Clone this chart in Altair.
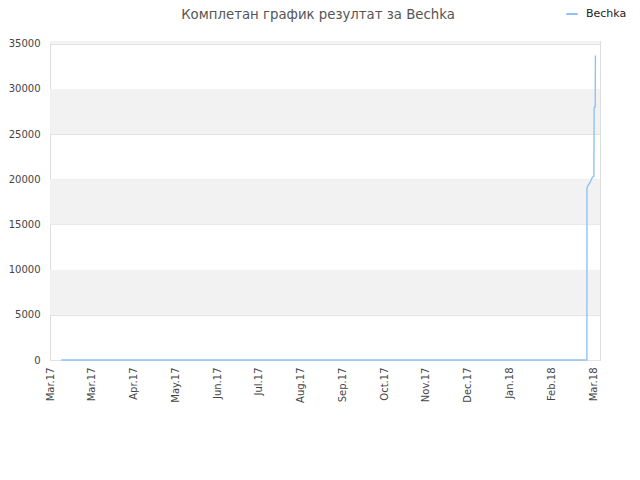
import altair as alt
import pandas as pd

# --- data ---
dates = [
    "2017-03-09T00:00", "2018-03-21T14:00", "2018-03-21T15:00",
    "2018-03-22T06:00", "2018-03-23T12:00", "2018-03-24T12:00",
    "2018-03-25T12:00", "2018-03-26T14:00", "2018-03-26T19:00",
    "2018-03-27T14:00", "2018-03-27T17:00",
]
scores = [0, 0, 19000, 19270, 19540, 19870, 20200, 20350, 27960, 28000, 33700]
series_name = "Bechka"

tick_dates = [
    "2017-03-01", "2017-03-31", "2017-04-30", "2017-05-30", "2017-06-29",
    "2017-07-29", "2017-08-28", "2017-09-27", "2017-10-27", "2017-11-26",
    "2017-12-26", "2018-01-25", "2018-02-24", "2018-03-26",
]
x_domain = ["2017-03-01", "2018-03-31"]
y_ticks = [0, 5000, 10000, 15000, 20000, 25000, 30000, 35000]
y_max = 35300
band_lo = [5000, 15000, 25000, 35000]
band_hi = [10000, 20000, 30000, 35300]

title_text = "Комплетан график резултат за Bechka"
line_color = "#90c2f4"
font = "DejaVu Sans"


def to_dt(d):
    return alt.DateTime(year=int(d[:4]), month=int(d[5:7]), date=int(d[8:10]))


df = pd.DataFrame({"date": pd.to_datetime(dates), "score": scores, "name": series_name})
bands = pd.DataFrame({
    "lo": band_lo, "hi": band_hi,
    "x0": pd.to_datetime([x_domain[0]] * len(band_lo)),
    "x1": pd.to_datetime([x_domain[1]] * len(band_lo)),
})

x_scale = alt.Scale(domain=[to_dt(d) for d in x_domain], nice=False)
y_scale = alt.Scale(domain=[0, y_max], nice=False, zero=True)

x_axis = alt.Axis(
    values=[to_dt(d) for d in tick_dates], format="%b.%y", labelAngle=270,
    labelAlign="right", labelBaseline="middle", ticks=False, domain=False,
    grid=False, labelPadding=7, labelFont=font, labelFontSize=10,
    labelColor="#444", labelOverlap=False,
)
y_axis = alt.Axis(
    values=y_ticks, ticks=False, domain=False, grid=True, gridColor="#e2e2e2",
    labelPadding=10, labelFont=font, labelFontSize=10, labelColor="#444",
    format="d",
)

band_layer = alt.Chart(bands).mark_rect(color="#f2f2f2").encode(
    x=alt.X("x0:T", scale=x_scale, axis=x_axis, title=None),
    x2="x1:T",
    y=alt.Y("lo:Q", scale=y_scale, axis=y_axis, title=None),
    y2="hi:Q",
)

line_layer = alt.Chart(df).mark_line(strokeWidth=1.4, interpolate="linear").encode(
    x=alt.X("date:T", scale=x_scale, title=None, axis=x_axis),
    y=alt.Y("score:Q", scale=y_scale, title=None, axis=y_axis),
    color=alt.Color(
        "name:N", scale=alt.Scale(domain=[series_name], range=[line_color]),
        legend=alt.Legend(
            title=None, orient="none", legendX=515, legendY=-34,
            symbolType="stroke", symbolStrokeWidth=2, symbolSize=130,
            labelOffset=7, labelFont=font, labelFontSize=11, labelColor="#222",
        ),
    ),
)

title_layer = alt.Chart(pd.DataFrame({"t": [title_text]})).mark_text(
    font=font, fontSize=13.3, color="#555", align="center", baseline="middle",
).encode(text="t:N", x=alt.value(268), y=alt.value(-26))

chart = alt.layer(band_layer, line_layer, title_layer).properties(
    width=550,
    height=319,
    padding={"left": 42, "top": 33, "right": 30, "bottom": 60},
    autosize=alt.AutoSizeParams(type="none"),
).configure_view(stroke="#d9d9d9", strokeWidth=1).configure(background="white")

chart.save("out.html", embed_options={"renderer": "svg", "actions": False})
